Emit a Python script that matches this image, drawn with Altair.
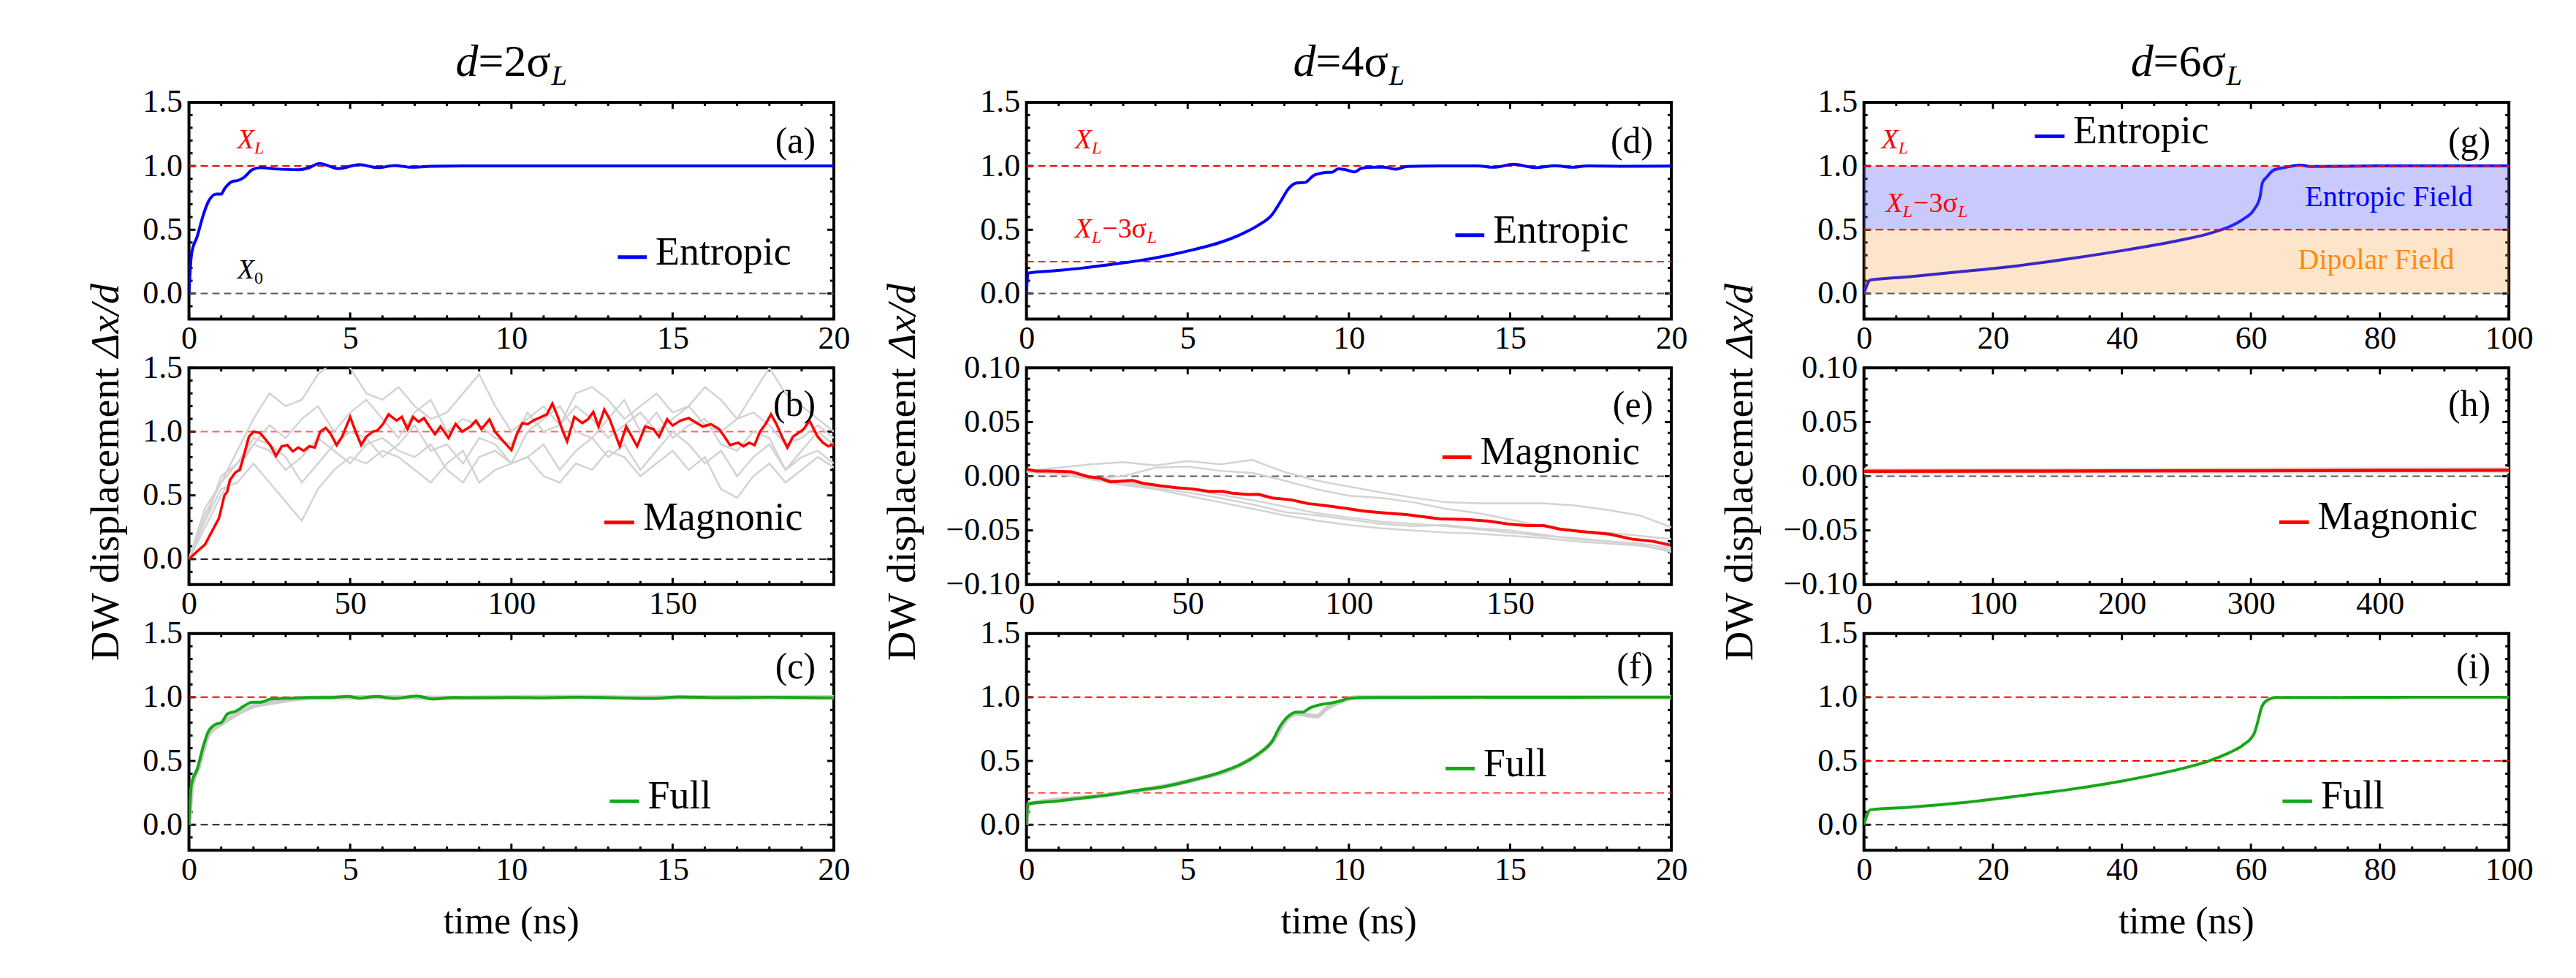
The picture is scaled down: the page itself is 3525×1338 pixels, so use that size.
import altair as alt
import pandas as pd

FONT = "Liberation Serif, Times New Roman, serif"
W, H = 884, 297                 # plot area of every panel
COL_SPACING, ROW_SPACING = 264, 67
TICK_FS, LEG_FS, TAG_FS, NOTE_FS = 44, 54, 50, 38

BLUE, RED, GREEN = "#0000ff", "#ff0000", "#16a816"
RUN_GRAY, ZERO_GRAY = "#d3d3d3", "#5a5a5a"

# ---------------------------------------------------------------- data
# d = 2 sigma_L
a_t = [0, 0.08, 0.26, 0.45, 0.6, 0.85, 1.0, 1.1, 1.36, 1.5, 1.7, 1.96, 2.2, 2.7, 3.4, 3.7,
       4.05, 4.63, 5.28, 5.87, 6.38, 6.9, 7.5, 8.5, 10, 12, 14, 16, 18, 20]
a_y = [0, 0.31, 0.45, 0.62, 0.72, 0.78, 0.78, 0.82, 0.88, 0.885, 0.91, 0.97, 0.987, 0.977,
       0.971, 0.985, 1.02, 0.98, 1.01, 0.987, 1.004, 0.99, 0.998, 1.0, 1.0, 1.0, 1.0, 1.0, 1.0, 1.0]

b_t = [0, 2.5, 5, 7.6, 9.3, 11, 11.9, 12.7, 14.4, 15.8, 17, 18.6, 20, 22, 23.7, 25.4, 27, 28.8,
       30.5, 32.2, 33.9, 35.6, 37.3, 39, 40.7, 42.4, 44, 45.8, 47.5, 50, 51.7, 53.4, 55, 57, 58.5,
       60.2, 61.9, 64.4, 66, 67.8, 69.5, 71.2, 72.9, 74.6, 76.3, 78, 80.5, 82.7, 84.7, 87.3, 89,
       90.7, 93.2, 94.9, 97.5, 100, 101.7, 103.4, 105, 106.8, 109.3, 111, 112.7, 114.4, 116, 117.3,
       119.5, 122, 123.7, 125.4, 127, 128.8, 130.5, 133.6, 135.6, 139, 141.5, 144, 145.8, 148.3,
       150, 152.5, 155, 156.8, 159.3, 161.9, 164.4, 166.1, 167.8, 170.3, 172, 173.7, 175.4, 177.1,
       178.8, 180.5, 182.2, 183.9, 185.6, 187.3, 189, 190.7, 192.4, 195, 196.6, 198.3, 200]
b_y = [0, 0.06, 0.115, 0.24, 0.32, 0.5, 0.53, 0.62, 0.68, 0.70, 0.81, 0.96, 1.0, 0.99, 0.94,
       0.885, 0.81, 0.885, 0.894, 0.846, 0.875, 0.85, 0.885, 0.875, 1.0, 1.03, 0.98, 0.894, 0.96,
       1.115, 1.0, 0.894, 0.96, 1.0, 1.01, 1.06, 1.135, 1.087, 1.115, 1.02, 1.115, 1.077, 1.106,
       1.04, 0.98, 1.04, 0.95, 1.06, 1.0, 1.04, 1.087, 1.02, 1.096, 1.0, 0.923, 0.856, 0.98, 1.067,
       1.058, 1.087, 1.115, 1.135, 1.22, 1.115, 1.0, 0.923, 1.115, 1.067, 1.096, 1.154, 1.04, 1.173,
       1.096, 0.885, 1.04, 0.885, 1.04, 1.02, 0.96, 1.096, 1.048, 1.087, 1.106, 1.077, 1.04, 1.058,
       1.02, 0.96, 0.894, 0.913, 0.885, 0.913, 0.894, 1.0, 1.058, 1.135, 1.058, 0.96, 0.875, 0.96,
       0.99, 1.02, 1.087, 0.96, 0.913, 0.885, 0.9]

# individual magnonic runs, sampled every 5 ns
b_run_t = list(range(0, 205, 5))
b_runs = [
    [0, 0.4, 0.6, 0.85, 1.1, 1.3, 1.2, 1.25, 1.45, 1.55, 1.5, 1.3, 1.25, 1.35, 1.2, 1.1, 1.15, 1.3,
     1.45, 1.2, 1.0, 1.1, 1.2, 1.05, 1.3, 1.35, 1.25, 1.1, 1.2, 1.3, 1.15, 1.2, 1.35, 1.25, 1.1,
     1.3, 1.5, 1.3, 1.2, 1.1, 1.0],
    [0, 0.3, 0.55, 0.6, 0.75, 0.6, 0.45, 0.3, 0.55, 0.7, 0.8, 0.75, 0.85, 0.8, 0.7, 0.6, 0.75,
     0.85, 0.6, 0.7, 0.75, 0.8, 0.65, 0.6, 0.75, 0.7, 0.85, 0.8, 0.65, 0.75, 0.85, 0.7, 0.8, 0.55,
     0.48, 0.65, 0.75, 0.6, 0.7, 0.8, 0.72],
    [0, 0.35, 0.6, 0.75, 0.95, 0.9, 0.8, 0.6, 0.75, 0.9, 1.0, 0.95, 0.8, 0.9, 1.05, 0.85, 0.9,
     0.75, 0.95, 0.9, 0.75, 1.0, 1.1, 1.2, 1.0, 0.95, 1.1, 1.25, 1.0, 1.15, 0.95, 1.05, 1.1, 0.9,
     0.85, 1.0, 0.95, 0.7, 0.85, 1.0, 0.9],
    [0, 0.25, 0.5, 0.7, 0.9, 1.05, 0.95, 1.1, 1.2, 1.0, 1.15, 1.25, 1.1, 0.95, 1.15, 1.25, 1.0,
     1.1, 1.05, 0.95, 0.9, 1.15, 1.0, 1.05, 1.2, 1.1, 0.95, 1.05, 1.15, 1.0, 1.1, 1.2, 1.05, 1.0,
     1.1, 1.15, 1.05, 0.9, 0.95, 1.05, 0.95],
    [0, 0.3, 0.65, 0.75, 0.9, 0.85, 0.7, 0.8, 0.95, 0.85, 0.75, 0.9, 0.95, 0.85, 0.8, 0.9, 0.7,
     0.6, 0.8, 0.85, 0.75, 0.8, 0.9, 0.7, 0.85, 0.95, 0.8, 0.9, 0.7, 0.85, 1.0, 0.9, 0.75, 0.85,
     0.65, 0.8, 0.9, 0.7, 0.8, 0.85, 0.75],
]

c_t = [0, 0.08, 0.26, 0.45, 0.6, 0.85, 1.0, 1.2, 1.45, 1.7, 1.96, 2.2, 2.55, 3.06, 3.74, 4.4,
       4.94, 5.28, 5.8, 6.38, 7.06, 7.57, 8.2, 9.0, 10.0, 11.0, 12.0, 13.0, 14.4, 15.2, 16.5, 18.0,
       19.9, 20]
c_y = [0, 0.32, 0.44, 0.62, 0.73, 0.79, 0.80, 0.87, 0.89, 0.93, 0.96, 0.96, 0.986, 0.992, 0.998,
       0.998, 1.006, 0.992, 1.006, 0.99, 1.01, 0.986, 0.998, 0.996, 0.998, 0.995, 1.0, 0.997, 0.99,
       1.002, 0.996, 1.0, 0.995, 0.996]
c_run_t = [0, 0.1, 0.3, 0.6, 1.0, 1.5, 2.0, 2.5, 3.0, 3.5, 4.0, 6.0, 8.0, 10, 12, 14, 16, 18, 20]
c_run_y = [0, 0.3, 0.45, 0.7, 0.79, 0.87, 0.93, 0.955, 0.975, 0.99, 0.997, 1.0, 0.995, 1.0,
           1.003, 0.997, 1.0, 0.998, 1.0]

# d = 4 sigma_L
d_t = [0, 0.05, 0.9, 1.75, 2.6, 3.45, 4.3, 5.15, 6.0, 6.68, 7.19, 7.62, 7.87, 8.13, 8.38, 8.64,
       8.9, 9.23, 9.49, 9.66, 9.9, 10.17, 10.4, 10.77, 11.1, 11.45, 11.8, 12.8, 14.0, 14.5, 15.1,
       15.8, 16.4, 16.9, 17.4, 18.5, 20]
d_y = [0, 0.16, 0.179, 0.2, 0.227, 0.256, 0.294, 0.342, 0.4, 0.467, 0.535, 0.62, 0.717, 0.823,
       0.867, 0.871, 0.925, 0.948, 0.952, 0.977, 0.971, 0.954, 0.983, 0.99, 0.99, 0.975, 0.996,
       1.0, 1.0, 0.99, 1.013, 0.987, 1.002, 0.99, 1.0, 0.998, 1.0]

e_t = [0, 0.5, 3, 7.3, 14, 19.2, 22.6, 26, 29.4, 32.8, 36.2, 41.3, 46.4, 51.5, 56.6, 60.9, 63.4,
       68.5, 71.9, 76.2, 82.1, 87.2, 92.3, 99.1, 104.2, 111, 117.8, 128, 136.6, 143.4, 150.2,
       155.3, 160.4, 165.5, 174, 180.8, 187.6, 194.4, 199.5]
e_y = [0.006, 0.0063, 0.0047, 0.0047, 0.004, -0.0005, -0.0016, -0.0052, -0.0045, -0.0038,
       -0.0065, -0.0088, -0.0106, -0.0117, -0.014, -0.014, -0.0155, -0.0169, -0.0167, -0.02,
       -0.0218, -0.0252, -0.027, -0.0297, -0.032, -0.0338, -0.0354, -0.0392, -0.0399, -0.0414,
       -0.0444, -0.0455, -0.0455, -0.0489, -0.0516, -0.0534, -0.0579, -0.0601, -0.0635]
e_run_t = list(range(0, 210, 10))
e_runs = [
    [0.005, 0.008, 0.011, 0.013, 0.010, 0.014, 0.011, 0.015, 0.004, -0.004, -0.0095, -0.015,
     -0.0198, -0.024, -0.025, -0.025, -0.025, -0.027, -0.031, -0.036, -0.047],
    [0.004, 0.002, -0.002, 0.0, 0.008, 0.009, 0.005, 0.003, -0.004, -0.012, -0.018, -0.02, -0.024,
     -0.03, -0.034, -0.04, -0.046, -0.05, -0.052, -0.055, -0.058],
    [0.004, 0.002, -0.003, -0.008, -0.012, -0.018, -0.024, -0.03, -0.036, -0.041, -0.045, -0.048,
     -0.05, -0.052, -0.053, -0.055, -0.057, -0.06, -0.062, -0.064, -0.068],
    [0.005, 0.003, -0.002, -0.006, -0.011, -0.015, -0.02, -0.026, -0.033, -0.036, -0.04, -0.044,
     -0.046, -0.045, -0.048, -0.05, -0.054, -0.058, -0.06, -0.063, -0.07],
    [0.006, 0.005, 0.0, -0.005, -0.009, -0.012, -0.017, -0.022, -0.028, -0.034, -0.038, -0.042,
     -0.044, -0.046, -0.049, -0.052, -0.055, -0.057, -0.06, -0.062, -0.066],
]

f_t = [0, 0.05, 0.9, 1.75, 2.6, 3.45, 4.3, 5.15, 6.0, 6.68, 7.19, 7.62, 7.87, 8.13, 8.38, 8.55,
       8.8, 9.15, 9.49, 9.75, 10.0, 10.6, 12, 14, 16, 18, 20]
f_y = [0, 0.164, 0.184, 0.21, 0.236, 0.27, 0.3, 0.35, 0.41, 0.477, 0.556, 0.655, 0.774, 0.853,
       0.883, 0.883, 0.917, 0.943, 0.956, 0.972, 0.992, 0.998, 0.998, 1.0, 0.999, 1.0, 1.0]
f_run_t = [0, 0.05, 2.6, 5.15, 6.68, 7.62, 8.13, 8.4, 8.7, 9.0, 9.3, 9.6, 9.9, 10.2, 12, 16, 20]
f_run_y = [0, 0.16, 0.235, 0.35, 0.475, 0.65, 0.84, 0.87, 0.86, 0.85, 0.91, 0.95, 0.98, 0.998,
           1.0, 1.0, 1.0]

# d = 6 sigma_L
g_t = [0, 1.0, 6.9, 15.4, 23.8, 32.2, 40.7, 49.1, 53.3, 56.7, 58.8, 60.5, 61.4, 61.8, 62.4, 63.5,
       65.1, 67.7, 69.4, 80, 100]
g_y = [0, 0.106, 0.131, 0.173, 0.217, 0.275, 0.342, 0.419, 0.467, 0.525, 0.583, 0.66, 0.756,
       0.871, 0.91, 0.967, 0.987, 1.006, 0.996, 1.0, 1.0]

h_t = [0, 100, 200, 300, 400, 500]
h_y = [0.0045, 0.0047, 0.0049, 0.0051, 0.0054, 0.0056]

i_t = [0, 1.0, 6.9, 15.4, 23.8, 32.2, 40.7, 49.1, 53.3, 56.7, 58.8, 60.5, 61.2, 61.6, 62.4, 63.9,
       70.2, 85, 100]
i_y = [0, 0.117, 0.137, 0.174, 0.224, 0.279, 0.349, 0.438, 0.497, 0.566, 0.626, 0.715, 0.834,
       0.913, 0.972, 0.998, 0.998, 1.0, 1.0]

# field regions of the d = 6 sigma_L case (units of d)
band_lo = [0.0, 0.5]
band_hi = [0.5, 1.0]
band_col = ["#f5962a", "#6464f5"]
band_op = [0.25, 0.35]

# reference levels: X_0, X_L and X_L - 3 sigma_L
X0, XL = 0.0, 1.0
XL3 = {2: None, 4: 0.25, 6: 0.5}


# ---------------------------------------------------------------- helpers
def frame(t, y):
    return pd.DataFrame(list(zip(t, y)), columns=["t", "y"])


def runs_frame(t, runs):
    rows = []
    for k, r in enumerate(runs):
        rows += [(k, tt, yy) for tt, yy in zip(t, r)]
    return pd.DataFrame(rows, columns=["run", "t", "y"])


def steps(lo, hi, step):
    n = int(round((hi - lo) / step))
    return [round(lo + k * step, 6) for k in range(n + 1)]


EM_RM = {"=": 0.564, "−": 0.564, "σ": 0.55, " ": 0.25}
EM_IT = {"X": 0.611, "L": 0.556, "d": 0.5}


def text_w(s, size, italic):
    tab = EM_IT if italic else EM_RM
    return size * sum(tab.get(ch, 0.5) for ch in s)


def one():
    return pd.DataFrame({"k": [0]})


class Panel:
    def __init__(self, xdom, ydom, xlab, ylab, xminor, yminor, yfmt):
        self.xs = alt.Scale(domain=xdom, nice=False, zero=False)
        self.ys = alt.Scale(domain=ydom, nice=False, zero=False)
        common = dict(title=None, ticks=False, tickSize=0, domain=False, grid=False,
                      labelFont=FONT, labelFontSize=TICK_FS, labelColor="black",
                      labelFlush=False, labelOverlap=False)
        self.xax = alt.Axis(values=xlab, labelPadding=5, format="d", **common)
        self.yax = alt.Axis(values=ylab, labelPadding=9, format=yfmt, **common)
        self.xdom, self.ydom = xdom, ydom
        self.xminor, self.yminor = xminor, yminor
        self.layers = []

    def X(self, f):
        return alt.X(f, type="quantitative", scale=self.xs, axis=self.xax)

    def Y(self, f):
        return alt.Y(f, type="quantitative", scale=self.ys, axis=self.yax)

    # inward ticks on all four sides of the frame
    def ticks(self, xmaj_step, ymaj_step):
        xmaj = steps(self.xdom[0], self.xdom[1], xmaj_step)
        xmin = [v for v in steps(self.xdom[0], self.xdom[1], self.xminor)
                if all(abs(v - m) > 1e-9 for m in xmaj)]
        ymaj = [v for v in steps(-10 * ymaj_step, 10 * ymaj_step, ymaj_step)
                if self.ydom[0] - 1e-9 <= v <= self.ydom[1] + 1e-9]
        ymin = [v for v in steps(self.ydom[0], self.ydom[1], self.yminor)
                if all(abs(v - m) > 1e-9 for m in ymaj)]
        out = []
        for vals, L in ((xmaj, 9), (xmin, 5)):
            d = pd.DataFrame({"t": vals})
            out.append(alt.Chart(d).mark_rule(color="black", strokeWidth=3).encode(
                x=self.X("t"), y=alt.value(H), y2=alt.value(H - L)))
            out.append(alt.Chart(d).mark_rule(color="black", strokeWidth=3).encode(
                x=self.X("t"), y=alt.value(0), y2=alt.value(L)))
        for vals, L in ((ymaj, 9), (ymin, 5)):
            d = pd.DataFrame({"y": vals})
            out.append(alt.Chart(d).mark_rule(color="black", strokeWidth=3).encode(
                y=self.Y("y"), x=alt.value(0), x2=alt.value(L)))
            out.append(alt.Chart(d).mark_rule(color="black", strokeWidth=3).encode(
                y=self.Y("y"), x=alt.value(W), x2=alt.value(W - L)))
        return out

    def levels(self, ys, cols, opac):
        d = pd.DataFrame({"y": ys, "c": cols, "o": opac})
        return alt.Chart(d).mark_rule(strokeDash=[10, 6], strokeWidth=2).encode(
            y=self.Y("y"), x=alt.value(0), x2=alt.value(W),
            color=alt.Color("c:N", scale=None), opacity=alt.Opacity("o:Q", scale=None))

    def curve(self, t, y, color, width=4, interp="monotone"):
        return alt.Chart(frame(t, y)).mark_line(
            color=color, strokeWidth=width, clip=True, interpolate=interp).encode(
            x=self.X("t"), y=self.Y("y"))

    def runs(self, df, width=2.5, color=RUN_GRAY):
        return alt.Chart(df).mark_line(color=color, strokeWidth=width, clip=True).encode(
            x=self.X("t"), y=self.Y("y"), detail="run:N")

    def legend(self, x0, x1, y, label, color):
        d = pd.DataFrame({"t": [x0], "t2": [x1], "y": [y], "label": [label]})
        line = alt.Chart(d).mark_rule(color=color, strokeWidth=5).encode(
            x=self.X("t"), x2="t2", y=self.Y("y"))
        txt = alt.Chart(d).mark_text(align="left", baseline="alphabetic", dx=12, dy=10,
                                     font=FONT, fontSize=LEG_FS, color="black").encode(
            x=self.X("t2"), y=self.Y("y"), text="label:N")
        return [line, txt]

    def tag(self, label, ypix):
        d = pd.DataFrame({"label": [label]})
        return alt.Chart(d).mark_text(align="right", baseline="middle", font=FONT,
                                      fontSize=TAG_FS, color="black").encode(
            x=alt.value(W - 25), y=alt.value(ypix), text="label:N")

    def rich(self, t, y, segs, color):
        d = pd.DataFrame({"t": [t], "y": [y]})
        return rich_layers(d, self.X("t"), self.Y("y"), segs, color)

    def build(self):
        return alt.layer(*self.layers).properties(width=W, height=H)


def rich_layers(d, x, y, segs, color):
    out, off = [], 0.0
    for text, size, italic, dy in segs:
        out.append(alt.Chart(d).mark_text(
            align="left", baseline="alphabetic", dx=off, dy=dy, font=FONT, fontSize=size,
            fontStyle="italic" if italic else "normal", color=color).encode(
            x=x, y=y, text=alt.value(text)))
        off += text_w(text, size, italic) + (0.04 * size if dy else 0)
    return out


SUB = 24


def xl_segs():
    return [("X", NOTE_FS, True, 0), ("L", SUB, True, 7)]


def xl3_segs():
    return [("X", NOTE_FS, True, 0), ("L", SUB, True, 7), ("−3σ", NOTE_FS, False, 0),
            ("L", SUB, True, 7)]


def column_title(n):
    fs, sfs = 62, 39
    segs = [("d", fs, True, 0), (f"={n}σ", fs, False, 0), ("L", sfs, True, 12)]
    total = sum(text_w(s, z, it) for s, z, it, _ in segs)
    return rich_layers(one(), alt.value(W / 2 - total / 2), alt.value(-36), segs, "black")


YT_FS = 56


def y_title(xpix):
    # "DW displacement" reads upward and ends where "Δx/d" begins
    w1 = 7.39 * YT_FS
    w2 = 1.83 * YT_FS
    gap = 14
    anchor = H / 2 - (w1 - w2 - gap) / 2
    a = alt.Chart(one()).mark_text(align="right", baseline="alphabetic", angle=270, font=FONT,
                                   fontSize=YT_FS, color="black").encode(
        x=alt.value(xpix), y=alt.value(anchor), text=alt.value("DW displacement"))
    b = alt.Chart(one()).mark_text(align="left", baseline="alphabetic", angle=270, dx=gap,
                                   font=FONT, fontSize=YT_FS, fontStyle="italic",
                                   color="black").encode(
        x=alt.value(xpix), y=alt.value(anchor), text=alt.value("Δx/d"))
    return [a, b]


def x_title():
    return alt.Chart(one()).mark_text(baseline="middle", align="center", font=FONT,
                                      fontSize=52, color="black").encode(
        x=alt.value(W / 2), y=alt.value(H + 98), text=alt.value("time (ns)"))


def corner(xpix, ypix):
    # fixes the outer extent of the figure
    return alt.Chart(one()).mark_rule(color="white", strokeWidth=1).encode(
        x=alt.value(xpix), x2=alt.value(xpix + 1), y=alt.value(ypix))


Y_BIG = [-0.2, 1.5]
Y_SMALL = [-0.1, 0.1]
LAB_BIG = [0.0, 0.5, 1.0, 1.5]
LAB_SMALL = [-0.1, -0.05, 0.0, 0.05, 0.1]

LEFT, TOP = 256, 136
PITCH_X, PITCH_Y = W + COL_SPACING, H + ROW_SPACING

# ---------------------------------------------------------------- column d = 2 sigma_L
pa = Panel([0, 20], Y_BIG, [0, 5, 10, 15, 20], LAB_BIG, 1, 0.1, ".1f")
pa.layers += [corner(-LEFT, -TOP)]
pa.layers += pa.ticks(5, 0.5)
pa.layers += [pa.levels([XL, X0], [RED, ZERO_GRAY], [1, 1]), pa.curve(a_t, a_y, BLUE)]
pa.layers += pa.legend(13.3, 14.2, 0.286, "Entropic", BLUE)
pa.layers += pa.rich(1.5, 1.14, xl_segs(), RED)
pa.layers += pa.rich(1.5, 0.12, [("X", NOTE_FS, True, 0), ("0", SUB, False, 7)], "black")
pa.layers += [pa.tag("(a)", 54)] + column_title(2)

pb = Panel([0, 200], Y_BIG, [0, 50, 100, 150], LAB_BIG, 10, 0.1, ".1f")
pb.layers += pb.ticks(50, 0.5)
pb.layers += [pb.levels([XL, X0], [RED, "#222222"], [0.6, 1]),
              pb.runs(runs_frame(b_run_t, b_runs)), pb.curve(b_t, b_y, RED, 3.5, "linear")]
pb.layers += pb.legend(128.8, 138.1, 0.288, "Magnonic", RED)
pb.layers += [pb.tag("(b)", 51)] + y_title(-97)

pc = Panel([0, 20], Y_BIG, [0, 5, 10, 15, 20], LAB_BIG, 1, 0.1, ".1f")
pc.layers += pc.ticks(5, 0.5)
pc.layers += [pc.levels([XL, X0], [RED, "#222222"], [1, 1]),
              pc.curve(c_run_t, c_run_y, "#cccccc", 6), pc.curve(c_t, c_y, GREEN)]
pc.layers += pc.legend(13.05, 13.96, 0.184, "Full", GREEN)
pc.layers += [pc.tag("(c)", 46), x_title()]

# ---------------------------------------------------------------- column d = 4 sigma_L
pd_ = Panel([0, 20], Y_BIG, [0, 5, 10, 15, 20], LAB_BIG, 1, 0.1, ".1f")
pd_.layers += pd_.ticks(5, 0.5)
pd_.layers += [pd_.levels([XL, XL3[4], X0], [RED, RED, ZERO_GRAY], [1, 0.85, 1]),
               pd_.curve(d_t, d_y, BLUE)]
pd_.layers += pd_.legend(13.3, 14.2, 0.458, "Entropic", BLUE)
pd_.layers += pd_.rich(1.5, 1.14, xl_segs(), RED)
pd_.layers += pd_.rich(1.5, 0.438, xl3_segs(), RED)
pd_.layers += [pd_.tag("(d)", 54)] + column_title(4)

pe = Panel([0, 200], Y_SMALL, [0, 50, 100, 150], LAB_SMALL, 10, 0.01, ".2f")
pe.layers += pe.ticks(50, 0.05)
pe.layers += [pe.levels([X0], [ZERO_GRAY], [1]), pe.runs(runs_frame(e_run_t, e_runs)),
              pe.curve(e_t, e_y, RED, 4, "linear")]
pe.layers += pe.legend(129, 138, 0.0176, "Magnonic", RED)
pe.layers += [pe.tag("(e)", 52)] + y_title(-153)

pf = Panel([0, 20], Y_BIG, [0, 5, 10, 15, 20], LAB_BIG, 1, 0.1, ".1f")
pf.layers += pf.ticks(5, 0.5)
pf.layers += [pf.levels([XL, XL3[4], X0], [RED, RED, "#222222"], [1, 0.7, 1]),
              pf.curve(f_run_t, f_run_y, "#cccccc", 6), pf.curve(f_t, f_y, GREEN)]
pf.layers += pf.legend(13.0, 13.9, 0.44, "Full", GREEN)
pf.layers += [pf.tag("(f)", 46), x_title()]

# ---------------------------------------------------------------- column d = 6 sigma_L
pg = Panel([0, 100], Y_BIG, [0, 20, 40, 60, 80, 100], LAB_BIG, 5, 0.1, ".1f")
pg.layers += pg.ticks(20, 0.5)
bands = pd.DataFrame({"t": [0, 0], "t2": [100, 100], "y": band_lo, "y2": band_hi,
                      "c": band_col, "o": band_op})
pg.layers += [pg.curve(g_t, g_y, BLUE),
              alt.Chart(bands).mark_rect().encode(
                  x=pg.X("t"), x2="t2", y=pg.Y("y"), y2="y2",
                  color=alt.Color("c:N", scale=None), opacity=alt.Opacity("o:Q", scale=None)),
              pg.levels([XL, XL3[6], X0], [RED, RED, ZERO_GRAY], [1, 1, 1])]
pg.layers += pg.legend(26.5, 31.1, 1.233, "Entropic", BLUE)
pg.layers += pg.rich(2.7, 1.14, xl_segs(), RED)
pg.layers += pg.rich(3.4, 0.64, xl3_segs(), RED)
pg.layers += pg.rich(68.4, 0.688, [("Entropic Field", 40, False, 0)], "#0000ff")
pg.layers += pg.rich(67.3, 0.195, [("Dipolar Field", 40, False, 0)], "#ff8a10")
pg.layers += [pg.tag("(g)", 54)] + column_title(6)

ph = Panel([0, 500], Y_SMALL, [0, 100, 200, 300, 400], LAB_SMALL, 25, 0.01, ".2f")
ph.layers += ph.ticks(100, 0.05)
ph.layers += [ph.levels([X0], [ZERO_GRAY], [1]), ph.curve(h_t, h_y, "#e4e4e4", 9),
              ph.curve(h_t, h_y, RED, 4.5, "linear")]
ph.layers += ph.legend(322, 345, -0.0424, "Magnonic", RED)
ph.layers += [ph.tag("(h)", 51)] + y_title(-153)

pi = Panel([0, 100], Y_BIG, [0, 20, 40, 60, 80, 100], LAB_BIG, 5, 0.1, ".1f")
pi.layers += pi.ticks(20, 0.5)
pi.layers += [pi.levels([XL, XL3[6], X0], [RED, RED, "#222222"], [1, 1, 1]),
              pi.curve(i_t, i_y, GREEN)]
pi.layers += pi.legend(64.9, 69.5, 0.184, "Full", GREEN)
pi.layers += [pi.tag("(i)", 46), x_title(),
              corner(3525 - (LEFT + 2 * PITCH_X) - 1, 1338 - (TOP + 2 * PITCH_Y))]

# 3 x 3 grid, filled row by row
chart = (
    alt.concat(pa.build(), pd_.build(), pg.build(),
               pb.build(), pe.build(), ph.build(),
               pc.build(), pf.build(), pi.build(),
               columns=3, spacing={"row": ROW_SPACING, "column": COL_SPACING}, bounds="flush")
    .properties(padding=0, background="white")
    .configure_view(stroke="black", strokeWidth=4)
)

chart.save("out.html", embed_options={"renderer": "svg", "actions": False})
